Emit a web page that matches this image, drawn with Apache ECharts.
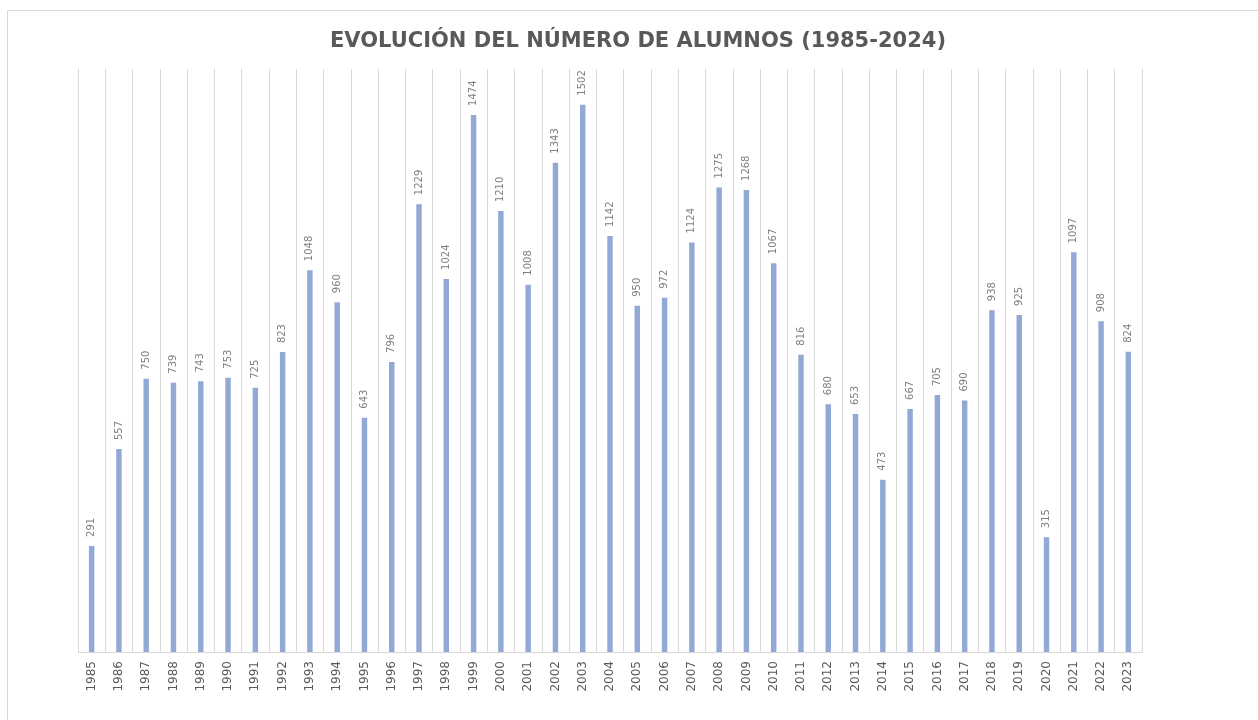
<!DOCTYPE html>
<html>
<head>
<meta charset="utf-8">
<script src="https://cdn.jsdelivr.net/npm/echarts@6/dist/echarts.min.js"></script>
<style>
html,body{margin:0;padding:0;background:#fff;}
#main{width:1258px;height:720px;}
</style>
</head>
<body>
<div id="main"></div>
<script>
const titleText = 'EVOLUCIÓN DEL NÚMERO DE ALUMNOS (1985-2024)';
const years = ['1985','1986','1987','1988','1989','1990','1991','1992','1993','1994','1995','1996','1997','1998','1999','2000','2001','2002','2003','2004','2005','2006','2007','2008','2009','2010','2011','2012','2013','2014','2015','2016','2017','2018','2019','2020','2021','2022','2023'];
const alumnos = [291,557,750,739,743,753,725,823,1048,960,643,796,1229,1024,1474,1210,1008,1343,1502,1142,950,972,1124,1275,1268,1067,816,680,653,473,667,705,690,938,925,315,1097,908,824];

const chart = echarts.init(document.getElementById('main'), null, {renderer:'canvas'});
chart.setOption({
  animation: false,
  backgroundColor: '#ffffff',
  graphic: [{
    type: 'rect',
    shape: {x: 7.5, y: 10.5, width: 1400, height: 900},
    style: {fill: 'none', stroke: '#d9d9d9', lineWidth: 1},
    silent: true, z: -10
  }],
  title: {
    text: titleText,
    left: 325,
    top: 26,
    textStyle: {
      fontFamily: 'DejaVu Sans',
      fontWeight: 'bold',
      fontSize: 21,
      color: '#595959'
    }
  },
  grid: {left: 78, right: 116, top: 69, bottom: 68},
  xAxis: {
    type: 'category',
    data: years,
    boundaryGap: true,
    axisLine: {show: true, lineStyle: {color: '#d9d9d9', width: 1}},
    axisTick: {show: false},
    splitLine: {show: true, lineStyle: {color: '#d9d9d9', width: 1}},
    axisLabel: {
      rotate: 90,
      margin: 9,
      interval: 0,
      fontFamily: 'DejaVu Sans',
      fontSize: 12,
      color: '#595959'
    }
  },
  yAxis: {
    type: 'value',
    min: 0,
    max: 1600,
    show: false,
    splitLine: {show: false}
  },
  series: [{
    type: 'bar',
    data: alumnos,
    barWidth: '20%',
    itemStyle: {color: '#92A9D5'},
    label: {
      show: true,
      position: 'top',
      rotate: 90,
      align: 'left',
      verticalAlign: 'middle',
      distance: 9,
      fontFamily: 'DejaVu Sans',
      fontSize: 10,
      color: '#7f7f7f'
    }
  }]
});
</script>
</body>
</html>
